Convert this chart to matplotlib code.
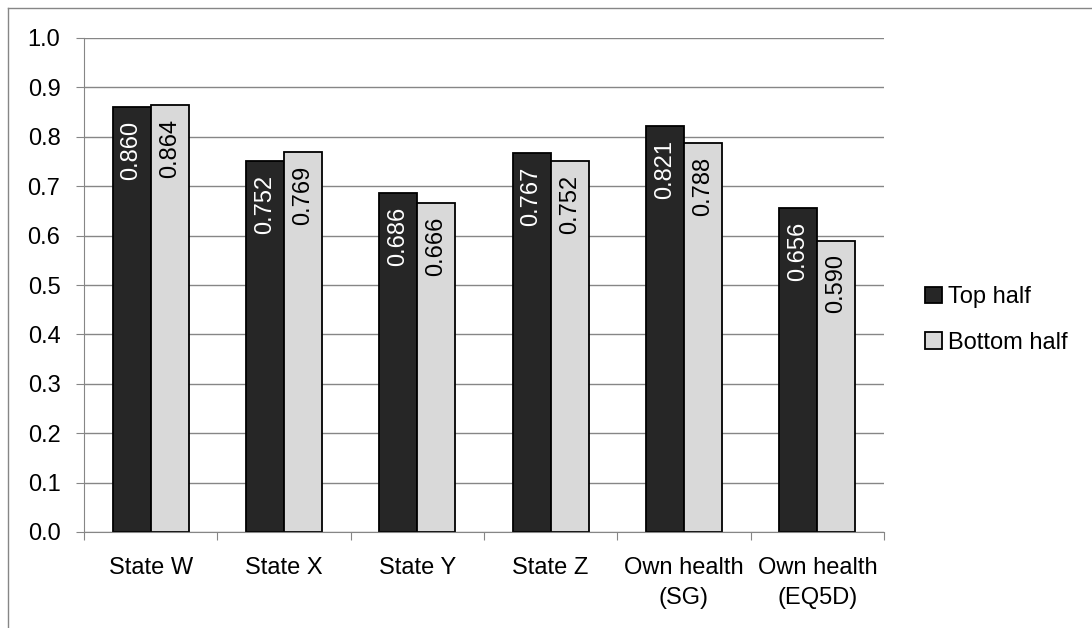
import numpy as np
import matplotlib.pyplot as plt
from matplotlib.lines import Line2D

categories = ["State W", "State X", "State Y", "State Z", "Own health\n(SG)", "Own health\n(EQ5D)"]
top_half = [0.860, 0.752, 0.686, 0.767, 0.821, 0.656]
bottom_half = [0.864, 0.769, 0.666, 0.752, 0.788, 0.590]
series_names = ["Top half", "Bottom half"]

plt.rcParams['font.family'] = ['Liberation Sans', 'DejaVu Sans']
plt.rcParams['font.size'] = 17

fig = plt.figure(figsize=(10.92, 6.28), dpi=100)
ax = fig.add_axes([84 / 1092, 1 - 532 / 628, 800 / 1092, 494 / 628])

# chart border (only left and top edges are inside the picture)
grey = "#868686"
fig.add_artist(Line2D([8 / 1092, 8 / 1092], [0, 1 - 8 / 628], transform=fig.transFigure,
                      color=grey, linewidth=1))
fig.add_artist(Line2D([8 / 1092, 1], [1 - 8 / 628, 1 - 8 / 628], transform=fig.transFigure,
                      color=grey, linewidth=1))

x = np.arange(len(categories)) + 0.5
w = 1 / 3.5
dark = ax.bar(x - w / 2, top_half, w, color="#262626", edgecolor="black", linewidth=1.3,
              label=series_names[0], zorder=3)
light = ax.bar(x + w / 2, bottom_half, w, color="#d9d9d9", edgecolor="black", linewidth=1.3,
               label=series_names[1], zorder=3)

for xi, v in zip(x - w / 2, top_half):
    ax.annotate(f"{v:.3f}", (xi, v), xytext=(0, -10), textcoords="offset points",
                rotation=90, ha="center", va="top", color="white", zorder=4)
for xi, v in zip(x + w / 2, bottom_half):
    ax.annotate(f"{v:.3f}", (xi, v), xytext=(0, -10), textcoords="offset points",
                rotation=90, ha="center", va="top", color="black", zorder=4)

ax.set_xlim(0, len(categories))
ax.set_ylim(0, 1.0)
yt = np.arange(0, 1.01, 0.1)
ax.set_yticks(yt)
ax.set_yticklabels([f"{t:.1f}" for t in yt])
ax.yaxis.grid(True, color=grey, linewidth=1, zorder=0)
ax.set_axisbelow(True)

# boundary ticks on major, labels on minor
ax.set_xticks(np.arange(len(categories) + 1))
ax.set_xticklabels([])
ax.set_xticks(x, minor=True)
ax.set_xticklabels(categories, minor=True, linespacing=1.45)
ax.tick_params(axis="x", which="major", length=6, color=grey, direction="out")
ax.tick_params(axis="x", which="minor", length=0, pad=18)
ax.tick_params(axis="y", length=6, color=grey, pad=11)

for s in ["top", "right"]:
    ax.spines[s].set_visible(False)
ax.spines["left"].set_color(grey)
ax.spines["bottom"].set_color(grey)
ax.spines["bottom"].set_zorder(5)

leg = fig.legend(handles=[dark, light], loc="center left", bbox_to_anchor=(925 / 1092, 1 - 320 / 628),
                 frameon=False, handlelength=0.72, handleheight=0.72, handletextpad=0.25,
                 labelspacing=1.0, borderpad=0, borderaxespad=0)

fig.savefig("out.png", dpi=100)
